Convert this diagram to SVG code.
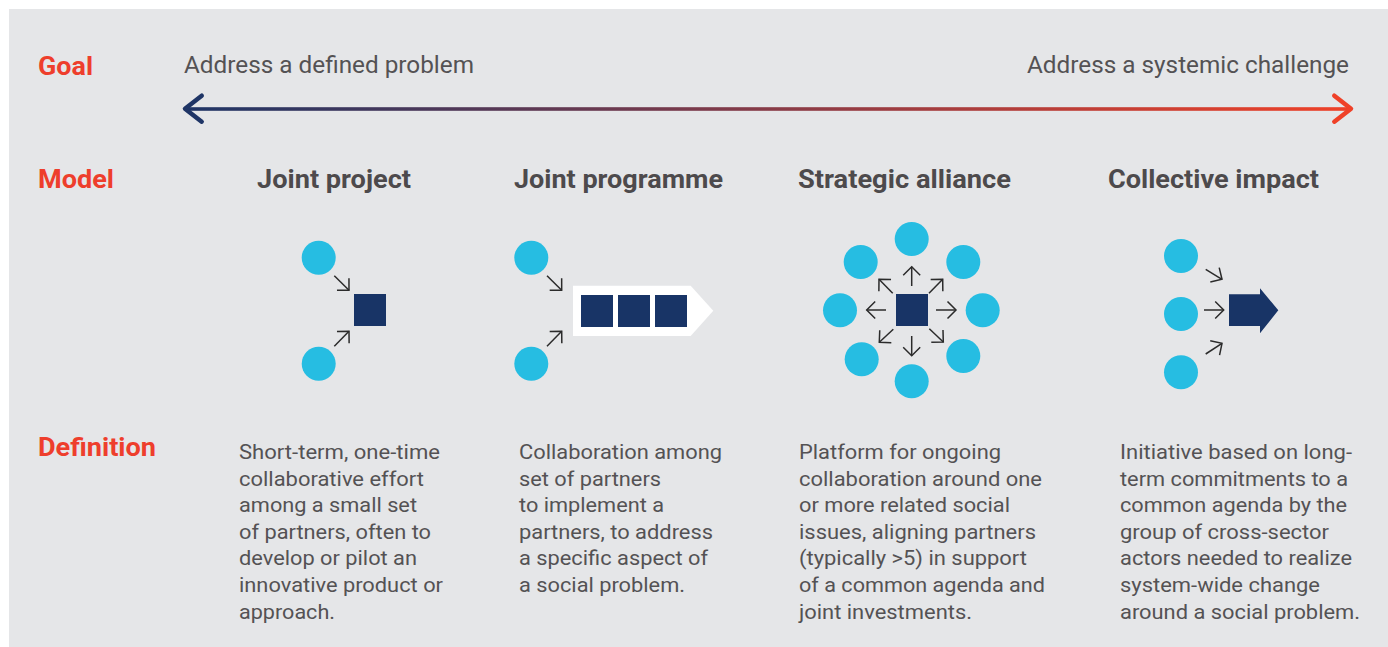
<svg xmlns="http://www.w3.org/2000/svg" width="1388" height="647" viewBox="0 0 1388 647">
<style>
.lbl{font-family:Roboto,"Liberation Sans",sans-serif;font-weight:bold;font-size:25px;fill:#ee3e2c}
.hdr{font-family:Roboto,"Liberation Sans",sans-serif;font-weight:bold;font-size:25px;fill:#4d4a4c;text-anchor:middle}
.goal{font-family:Roboto,"Liberation Sans",sans-serif;font-size:23px;fill:#545254}
.def{font-family:Roboto,"Liberation Sans",sans-serif;font-size:20px;fill:#545254}
.dot{fill:#26bde2}
.sq{fill:#183466}
.ar{stroke:#2b2b2b;stroke-width:1.5;fill:none;marker-end:url(#ah)}
</style>
<defs>
<linearGradient id="gr" gradientUnits="userSpaceOnUse" x1="184" y1="0" x2="1352" y2="0">
<stop offset="0" stop-color="#1f3566"/>
<stop offset="1" stop-color="#ef4128"/>
</linearGradient>
<marker id="ah" markerUnits="userSpaceOnUse" viewBox="-12 -12 14 24" refX="0" refY="0" markerWidth="14" markerHeight="24" orient="auto" overflow="visible">
<path d="M-8.5,-8.5 L0,0 L-8.5,8.5" fill="none" stroke="#2b2b2b" stroke-width="1.5"/>
</marker>
</defs>
<rect x="9" y="9" width="1379" height="638" fill="#e5e6e8"/>

<g id="labels">
<text class="lbl" x="38" y="75" textLength="55" lengthAdjust="spacingAndGlyphs">Goal</text>
<text class="lbl" x="38" y="188" textLength="76" lengthAdjust="spacingAndGlyphs">Model</text>
<text class="lbl" x="38" y="456" textLength="118" lengthAdjust="spacingAndGlyphs">Definition</text>
</g>

<g id="goal-axis">
<text class="goal" x="184" y="73" textLength="290" lengthAdjust="spacingAndGlyphs">Address a defined problem</text>
<text class="goal" x="1027" y="73" textLength="322" lengthAdjust="spacingAndGlyphs">Address a systemic challenge</text>
<rect x="186" y="107.2" width="1164" height="3.6" fill="url(#gr)"/>
<path d="M201.7,95.7 L185,108.7 L201.7,121.7" fill="none" stroke="#1f3566" stroke-width="4.5" stroke-linecap="round" stroke-linejoin="round"/>
<path d="M1334.3,95.7 L1351,108.7 L1334.3,121.7" fill="none" stroke="#ef4128" stroke-width="4.5" stroke-linecap="round" stroke-linejoin="round"/>
</g>

<g id="joint-project">
<text class="hdr" x="334" y="188" textLength="154" lengthAdjust="spacingAndGlyphs">Joint project</text>
<circle class="dot" cx="318.7" cy="257.7" r="17"/>
<circle class="dot" cx="318.7" cy="363.7" r="17"/>
<rect class="sq" x="354" y="294" width="32" height="32"/>
<text class="def" y="459">
<tspan x="239" textLength="201" lengthAdjust="spacingAndGlyphs">Short-term, one-time</tspan>
<tspan x="239" dy="26.6" textLength="185" lengthAdjust="spacingAndGlyphs">collaborative effort</tspan>
<tspan x="239" dy="26.6" textLength="178" lengthAdjust="spacingAndGlyphs">among a small set</tspan>
<tspan x="239" dy="26.6" textLength="192" lengthAdjust="spacingAndGlyphs">of partners, often to</tspan>
<tspan x="239" dy="26.6" textLength="178" lengthAdjust="spacingAndGlyphs">develop or pilot an</tspan>
<tspan x="239" dy="26.6" textLength="204" lengthAdjust="spacingAndGlyphs">innovative product or</tspan>
<tspan x="239" dy="26.6" textLength="96" lengthAdjust="spacingAndGlyphs">approach.</tspan>
</text>
</g>

<g id="joint-programme">
<text class="hdr" x="618.5" y="188" textLength="209" lengthAdjust="spacingAndGlyphs">Joint programme</text>
<circle class="dot" cx="531.3" cy="257.7" r="17"/>
<circle class="dot" cx="531.3" cy="363.7" r="17"/>
<path d="M573,285.7 L690.7,285.7 L713.3,310.8 L690.7,336 L573,336 Z" fill="#ffffff"/>
<rect class="sq" x="581" y="295" width="32" height="32"/>
<rect class="sq" x="618" y="295" width="32" height="32"/>
<rect class="sq" x="655" y="295" width="32" height="32"/>
<text class="def" y="459">
<tspan x="519" textLength="203" lengthAdjust="spacingAndGlyphs">Collaboration among</tspan>
<tspan x="519" dy="26.6" textLength="142" lengthAdjust="spacingAndGlyphs">set of partners</tspan>
<tspan x="519" dy="26.6" textLength="145" lengthAdjust="spacingAndGlyphs">to implement a</tspan>
<tspan x="519" dy="26.6" textLength="194" lengthAdjust="spacingAndGlyphs">partners, to address</tspan>
<tspan x="519" dy="26.6" textLength="189" lengthAdjust="spacingAndGlyphs">a specific aspect of</tspan>
<tspan x="519" dy="26.6" textLength="166" lengthAdjust="spacingAndGlyphs">a social problem.</tspan>
</text>
</g>

<g id="strategic-alliance">
<text class="hdr" x="904.5" y="188" textLength="213" lengthAdjust="spacingAndGlyphs">Strategic alliance</text>
<circle class="dot" cx="911.7" cy="239" r="17"/>
<circle class="dot" cx="860.7" cy="262" r="17"/>
<circle class="dot" cx="963.3" cy="262" r="17"/>
<circle class="dot" cx="840" cy="310.3" r="17"/>
<circle class="dot" cx="982.7" cy="310.3" r="17"/>
<circle class="dot" cx="861.7" cy="359.3" r="17"/>
<circle class="dot" cx="963.3" cy="356" r="17"/>
<circle class="dot" cx="911.7" cy="381.3" r="17"/>
<rect class="sq" x="896" y="294" width="32" height="32"/>
<text class="def" y="459">
<tspan x="799" textLength="202" lengthAdjust="spacingAndGlyphs">Platform for ongoing</tspan>
<tspan x="799" dy="26.6" textLength="243" lengthAdjust="spacingAndGlyphs">collaboration around one</tspan>
<tspan x="799" dy="26.6" textLength="211" lengthAdjust="spacingAndGlyphs">or more related social</tspan>
<tspan x="799" dy="26.6" textLength="237" lengthAdjust="spacingAndGlyphs">issues, aligning partners</tspan>
<tspan x="799" dy="26.6" textLength="228" lengthAdjust="spacingAndGlyphs">(typically &gt;5) in support</tspan>
<tspan x="799" dy="26.6" textLength="246" lengthAdjust="spacingAndGlyphs">of a common agenda and</tspan>
<tspan x="799" dy="26.6" textLength="173" lengthAdjust="spacingAndGlyphs">joint investments.</tspan>
</text>
</g>

<g id="collective-impact">
<text class="hdr" x="1213.5" y="188" textLength="211" lengthAdjust="spacingAndGlyphs">Collective impact</text>
<circle class="dot" cx="1181" cy="256" r="17"/>
<circle class="dot" cx="1181" cy="314" r="17"/>
<circle class="dot" cx="1181" cy="372.3" r="17"/>
<path class="sq" d="M1229,294.3 L1260,294.3 L1260,288.3 L1278.3,310.3 L1260,333.3 L1260,326 L1229,326 Z"/>
<text class="def" y="459">
<tspan x="1120" textLength="232" lengthAdjust="spacingAndGlyphs">Initiative based on long-</tspan>
<tspan x="1120" dy="26.6" textLength="228" lengthAdjust="spacingAndGlyphs">term commitments to a</tspan>
<tspan x="1120" dy="26.6" textLength="227" lengthAdjust="spacingAndGlyphs">common agenda by the</tspan>
<tspan x="1120" dy="26.6" textLength="209" lengthAdjust="spacingAndGlyphs">group of cross-sector</tspan>
<tspan x="1120" dy="26.6" textLength="232" lengthAdjust="spacingAndGlyphs">actors needed to realize</tspan>
<tspan x="1120" dy="26.6" textLength="200" lengthAdjust="spacingAndGlyphs">system-wide change</tspan>
<tspan x="1120" dy="26.6" textLength="240" lengthAdjust="spacingAndGlyphs">around a social problem.</tspan>
</text>
</g>

<g id="connectors">
<line class="ar" x1="334.3" y1="275.7" x2="349" y2="290.3"/>
<line class="ar" x1="334.3" y1="346.3" x2="349" y2="331.3"/>
<line class="ar" x1="547" y1="275.7" x2="561.7" y2="290.3"/>
<line class="ar" x1="547" y1="346.3" x2="561.7" y2="331.3"/>
<line class="ar" x1="911.7" y1="286" x2="911.7" y2="266.7"/>
<line class="ar" x1="911.7" y1="336" x2="911.7" y2="355.7"/>
<line class="ar" x1="936" y1="310" x2="956" y2="310"/>
<line class="ar" x1="886" y1="310" x2="866.7" y2="310"/>
<line class="ar" x1="929" y1="293.3" x2="942.7" y2="279.3"/>
<line class="ar" x1="892.7" y1="293.3" x2="879" y2="279.3"/>
<line class="ar" x1="893.3" y1="329.3" x2="879.3" y2="342.3"/>
<line class="ar" x1="929.3" y1="328.7" x2="943.3" y2="342"/>
<line class="ar" x1="1205.7" y1="269.3" x2="1222" y2="279.3"/>
<line class="ar" x1="1204" y1="310" x2="1223.7" y2="310"/>
<line class="ar" x1="1205.7" y1="354" x2="1222" y2="343.3"/>
</g>
</svg>
